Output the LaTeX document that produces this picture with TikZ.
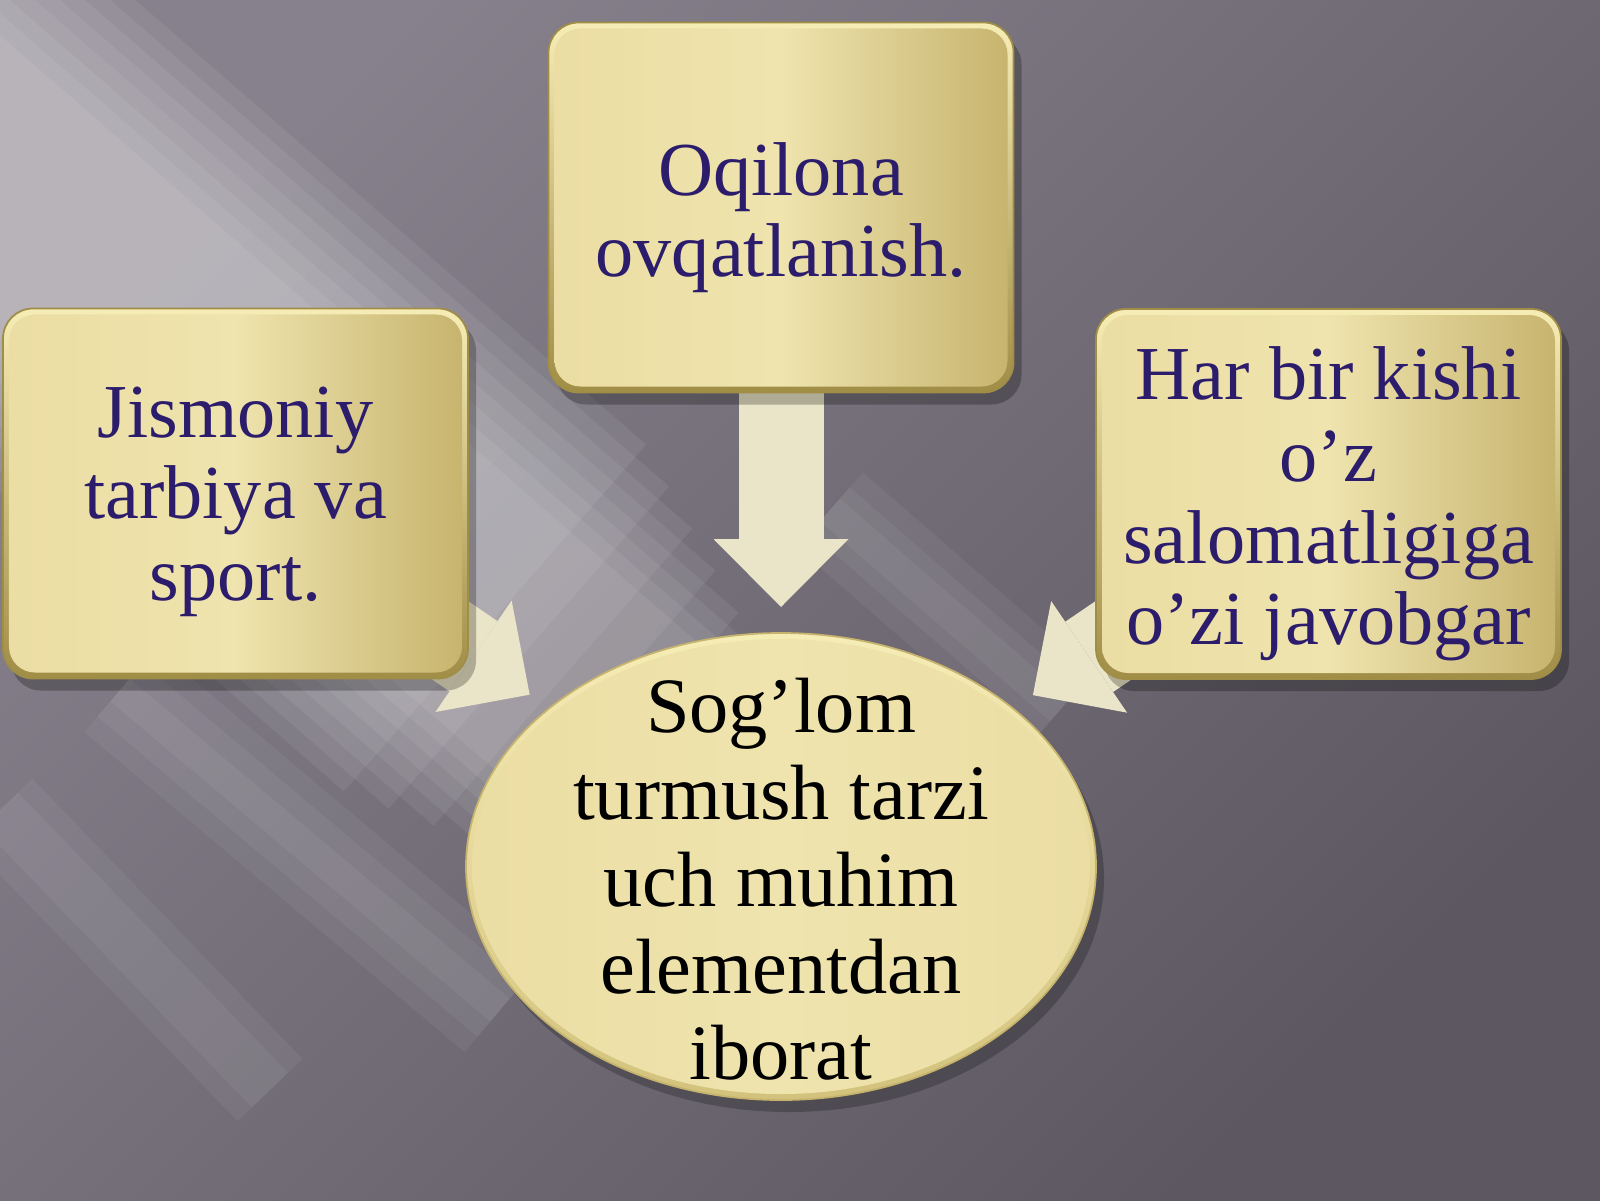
\documentclass[tikz,border=0pt]{standalone}
\usepackage{fontspec}
\setmainfont{Liberation Serif}
\usetikzlibrary{arrows.meta,shapes.geometric,shadows,calc}
\definecolor{bgtop}{HTML}{86818C}
\definecolor{bgbottom}{HTML}{5C5760}
\definecolor{goldlight}{HTML}{EBDDA3}
\definecolor{goldmid}{HTML}{EFE4AE}
\definecolor{golddark}{HTML}{C6B36D}
\definecolor{goldrim}{HTML}{F6EDB6}
\definecolor{goldedge}{HTML}{A08D46}
\definecolor{ovaledge}{HTML}{D2C27C}
\definecolor{ink}{HTML}{2C1C6C}
\definecolor{cream}{HTML}{EAE5C8}
\pgfdeclarelayer{bg}
\pgfdeclarelayer{under}
\pgfsetlayers{bg,under,main}
\tikzset{
  goldbox/.style={rectangle, rounded corners=0.3cm, minimum width=4.65cm, minimum height=3.7cm,
    inner sep=0pt, top color=goldrim, bottom color=goldedge, draw=goldedge, line width=0.5pt,
    drop shadow={shadow xshift=0.08cm, shadow yshift=-0.12cm, fill=black, opacity=.25},
    path picture={\shade[rounded corners=0.26cm, left color=goldlight, right color=golddark, middle color=goldmid]
      ([shift={(0.06,0.06)}]path picture bounding box.south west) rectangle
      ([shift={(-0.06,-0.06)}]path picture bounding box.north east);}},
  boxtext/.style={text=ink, font=\fontsize{21.7}{23.2}\selectfont, align=center},
  goldoval/.style={ellipse, minimum width=6.3cm, minimum height=4.67cm, inner sep=0pt, outer sep=0pt,
    top color=goldrim, bottom color=ovaledge, draw=golddark, line width=0.5pt,
    drop shadow={shadow xshift=0.08cm, shadow yshift=-0.12cm, fill=black, opacity=.22},
    path picture={\shade[left color=goldlight, right color=goldlight, middle color=goldmid]
      (path picture bounding box.center) ellipse [x radius=3.09cm, y radius=2.275cm];}},
  ovaltext/.style={font=\fontsize{22.3}{24.7}\selectfont, align=center, text=black},
  fatarrow/.style={draw=cream, line width=0.85cm, -{Triangle[width=1.35cm, length=0.68cm, line width=0pt]}},
  streak/.style={draw=white, line cap=butt}
}
\begin{document}
\begin{tikzpicture}
\useasboundingbox (0,0) rectangle (16,12);
\begin{pgfonlayer}{bg}
\shade[top color=bgtop, bottom color=bgbottom, shading angle=45] (0,0) rectangle (16,12);
% light streaks, soft edges
\foreach \i [evaluate=\i as \w using 4.6-0.33*\i, evaluate=\i as \t using 0.7+0.04*\i] in {0,...,7}
  \draw[streak, line width=\w cm, opacity=.065] (-1,11) -- ($(-1,11)+\t*(8.5,-7.4)$);
\foreach \w in {1.1,0.7,0.3}
  \draw[streak, line width=\w cm, opacity=.05] (1.2,5.1) -- (5.0,1.9);
\foreach \w in {0.9,0.5}
  \draw[streak, line width=\w cm, opacity=.05] (0,3.9) -- (2.7,1.1);
\foreach \w in {1.0,0.6,0.3}
  \draw[streak, line width=\w cm, opacity=.05] (8.3,6.9) -- (10.6,4.9);
\end{pgfonlayer}

\node[goldbox] (ovq) at (7.81,9.925) {};
\node[goldbox] (jis) at (2.355,7.065) {};
\node[goldbox] (har) at (13.285,7.06) {};
\node[goldoval] (sog) at (7.81,3.335) {};
\node[boxtext] (ovqtxt) at ([yshift=-0.1cm]ovq.center) {Oqilona\\ovqatlanish.};
\node[boxtext] (jistxt) at ([yshift=-0.08cm]jis.center) {Jismoniy\\tarbiya va\\sport.};
\node[boxtext] (hartxt) at ([yshift=-0.1cm]har.center) {Har bir kishi\\o’z\\salomatligiga\\o’zi javobgar};
\node[ovaltext] (sogtxt) at ([yshift=-0.13cm]sog.center) {Sog’lom\\turmush tarzi\\uch muhim\\elementdan\\iborat};

\begin{pgfonlayer}{under}
\draw[fatarrow, shorten >=0.26cm] (ovq.center) -- (sog);
\draw[fatarrow, shorten >=0.24cm] (jis.center) -- (sog);
\draw[fatarrow, shorten >=0.24cm] (har.center) -- (sog);
\end{pgfonlayer}
\end{tikzpicture}
\end{document}
